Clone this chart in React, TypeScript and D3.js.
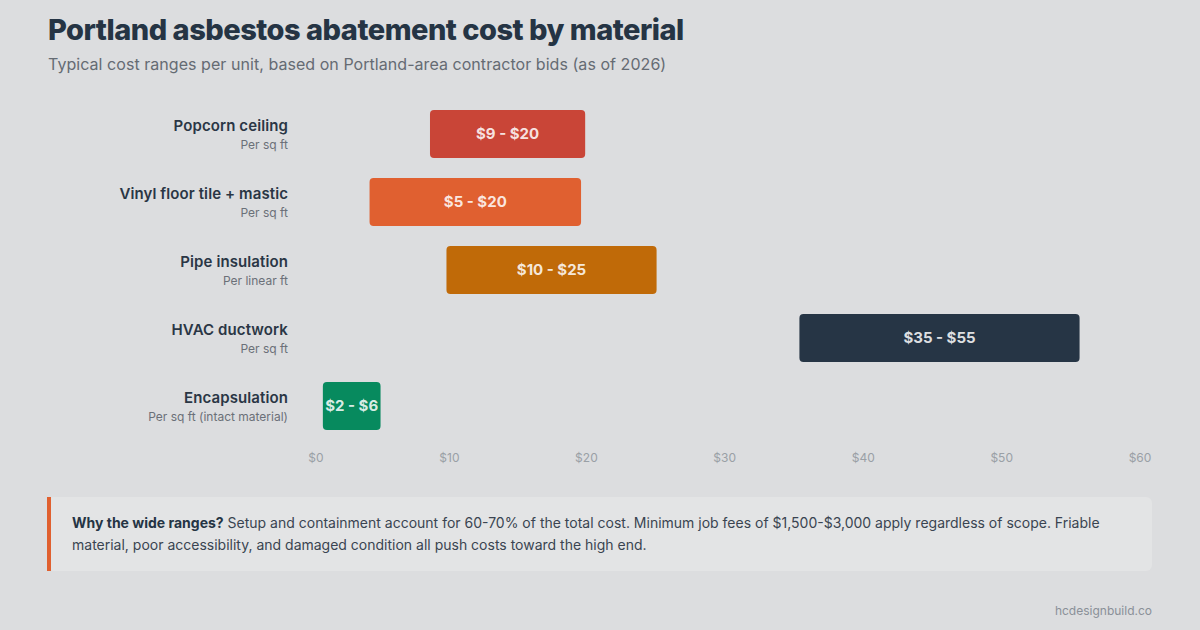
import React, { useEffect, useRef } from 'react';
import * as d3 from 'd3';

const materials = ['Popcorn ceiling', 'Vinyl floor tile + mastic', 'Pipe insulation', 'HVAC ductwork', 'Encapsulation'];
const units = ['Per sq ft', 'Per sq ft', 'Per linear ft', 'Per sq ft', 'Per sq ft (intact material)'];
const lowCost = [8.3, 3.9, 9.5, 35.2, 0.5];
const highCost = [19.6, 19.3, 24.8, 55.6, 4.7];
const rangeLabels = ['$9 - $20', '$5 - $20', '$10 - $25', '$35 - $55', '$2 - $6'];
const barColors = ['#c94537', '#e06030', '#c06a08', '#263545', '#078a5e'];
const xTicks = [0, 10, 20, 30, 40, 50, 60];

const FONT = 'Inter, "Noto Sans", sans-serif';

export default function App() {
    const svgRef = useRef<SVGSVGElement>(null);

    useEffect(() => {
        if (!svgRef.current) return;
        const width = 1200;
        const height = 630;

        const svg = d3.select(svgRef.current);
        svg.selectAll('*').remove();
        svg.attr('width', width).attr('height', height).style('font-family', FONT);

        svg.append('rect').attr('width', width).attr('height', height).attr('fill', '#dcdddf');

        // header
        svg.append('text')
            .attr('x', 48).attr('y', 40)
            .attr('fill', '#253444')
            .attr('font-size', 29).attr('font-weight', 800)
            .attr('letter-spacing', -0.5)
            .text('Portland asbestos abatement cost by material');
        svg.append('text')
            .attr('x', 48).attr('y', 70)
            .attr('fill', '#656b73')
            .attr('font-size', 16)
            .attr('letter-spacing', 0.05)
            .text('Typical cost ranges per unit, based on Portland-area contractor bids (as of 2026)');

        const xScale = d3.scaleLinear().domain([0, 60]).range([316, 1140]);
        const yScale = d3.scaleBand<string>()
            .domain(materials)
            .range([100, 440])
            .paddingInner(20 / 68)
            .paddingOuter(10 / 68);

        const rows = svg.append('g').selectAll('g')
            .data(materials)
            .join('g');

        // row labels
        rows.append('text')
            .attr('x', 288)
            .attr('y', d => (yScale(d) ?? 0) + yScale.bandwidth() / 2 - 3)
            .attr('text-anchor', 'end')
            .attr('fill', '#2a3645')
            .attr('font-size', 15).attr('font-weight', 600)
            .attr('letter-spacing', 0.1)
            .text(d => d);
        rows.append('text')
            .attr('x', 288)
            .attr('y', d => (yScale(d) ?? 0) + yScale.bandwidth() / 2 + 15)
            .attr('text-anchor', 'end')
            .attr('fill', '#6b7078')
            .attr('font-size', 12)
            .text((d, i) => units[i]);

        // range bars
        rows.append('rect')
            .attr('x', (d, i) => xScale(lowCost[i]))
            .attr('y', d => yScale(d) ?? 0)
            .attr('width', (d, i) => xScale(highCost[i]) - xScale(lowCost[i]))
            .attr('height', yScale.bandwidth())
            .attr('rx', 4)
            .attr('fill', (d, i) => barColors[i]);
        rows.append('text')
            .attr('x', (d, i) => (xScale(lowCost[i]) + xScale(highCost[i])) / 2)
            .attr('y', d => (yScale(d) ?? 0) + yScale.bandwidth() / 2)
            .attr('dy', '0.36em')
            .attr('text-anchor', 'middle')
            .attr('fill', 'rgba(255,255,255,0.86)')
            .attr('font-size', 15).attr('font-weight', 700)
            .text((d, i) => rangeLabels[i]);

        // x axis - labels spread like a space-between row across the scale's extent
        const axis = d3.axisBottom(xScale)
            .tickValues(xTicks)
            .tickSize(0)
            .tickPadding(0)
            .tickFormat(d => `$${d}`);
        const gx = svg.append('g').attr('transform', 'translate(0,453)').call(axis);
        gx.select('.domain').remove();
        const tickText = gx.selectAll<SVGTextElement, number>('text')
            .attr('fill', '#9aa0a6')
            .attr('font-size', 12)
            .attr('font-family', FONT);
        const widths = tickText.nodes().map(n => n.getComputedTextLength());
        const left = xScale(0) - widths[0] / 2;
        const right = xScale(60) + widths[widths.length - 1] / 2;
        const gap = (right - left - d3.sum(widths)) / (widths.length - 1);
        let cursor = left;
        const centers = widths.map(w => {
            const c = cursor + w / 2;
            cursor += w + gap;
            return c;
        });
        gx.selectAll<SVGGElement, number>('.tick')
            .attr('transform', (d, i) => `translate(${centers[i]},0)`);

        // note box
        const note = svg.append('g');
        note.append('rect')
            .attr('x', 47).attr('y', 497)
            .attr('width', 1105).attr('height', 74)
            .attr('rx', 6)
            .attr('fill', '#e3e4e5');
        note.append('rect')
            .attr('x', 47).attr('y', 497)
            .attr('width', 4).attr('height', 74)
            .attr('fill', '#e0602f');
        const line1 = note.append('text')
            .attr('x', 72).attr('y', 528)
            .attr('fill', '#3a4451')
            .attr('font-size', 14);
        line1.append('tspan').attr('font-weight', 700).attr('fill', '#253444').text('Why the wide ranges?');
        line1.append('tspan').text(' Setup and containment account for 60-70% of the total cost. Minimum job fees of $1,500-$3,000 apply regardless of scope. Friable');
        note.append('text')
            .attr('x', 72).attr('y', 550)
            .attr('fill', '#3a4451')
            .attr('font-size', 14)
            .text('material, poor accessibility, and damaged condition all push costs toward the high end.');

        svg.append('text')
            .attr('x', 1152).attr('y', 615)
            .attr('text-anchor', 'end')
            .attr('fill', '#8a9098')
            .attr('font-size', 12)
            .text('hcdesignbuild.co');
    }, []);

    return (
        <div style={{ position: 'absolute', left: 0, top: 0 }}>
            <svg ref={svgRef} style={{ display: 'block' }} />
        </div>
    );
}
